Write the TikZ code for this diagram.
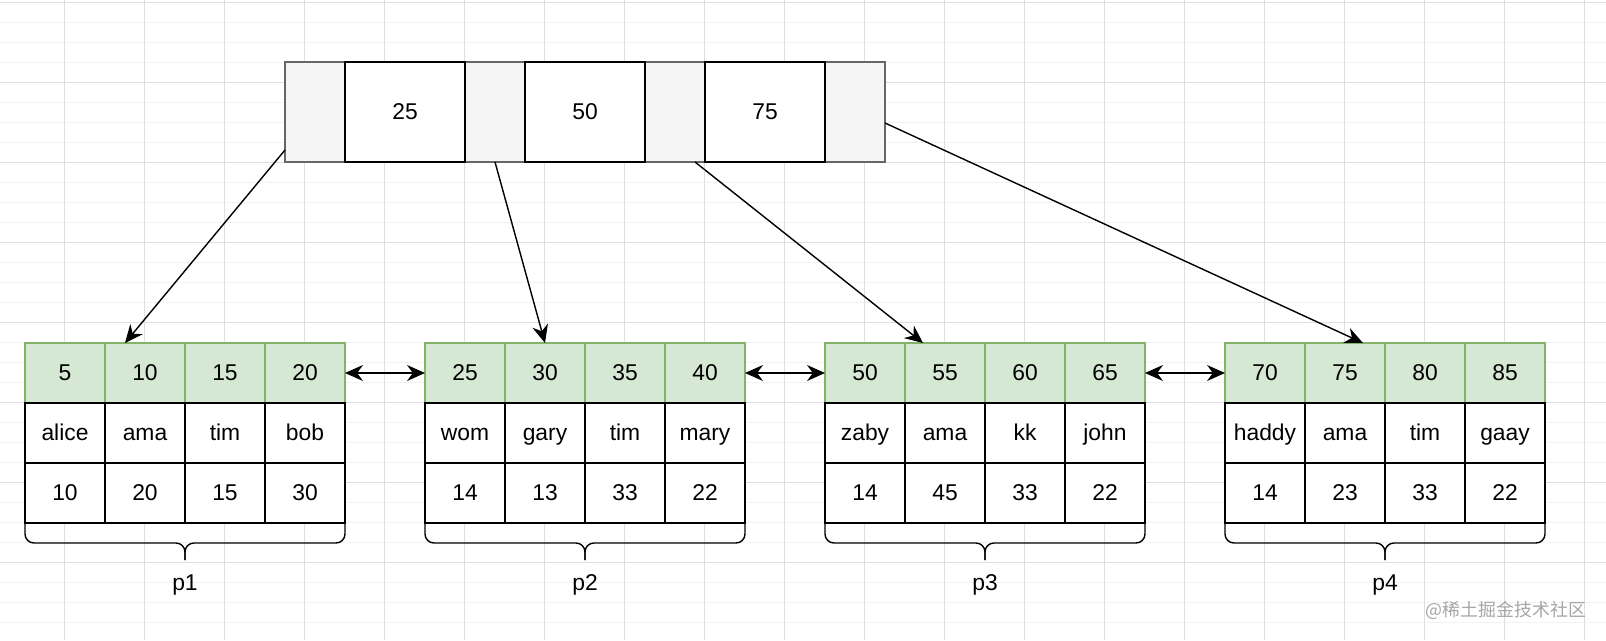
\documentclass[tikz,border=0pt]{standalone}
\usepackage{fontspec}
\setmainfont{Liberation Sans}
\newfontfamily\cjkfont{Noto Sans CJK SC}
\usetikzlibrary{arrows.meta,calc}
\definecolor{leafgreen}{HTML}{D5E8D4}
\definecolor{leafedge}{HTML}{82B366}
\definecolor{ptrgray}{HTML}{F5F5F5}
\definecolor{ptredge}{HTML}{666666}
\definecolor{gridline}{HTML}{DFDFDF}
\definecolor{gridfaint}{HTML}{F2F2F2}

\begin{document}
\begin{tikzpicture}[
    x=0.02cm, y=-0.02cm,
    font=\fontsize{13}{15}\selectfont,
    gridmajor/.style={draw=gridline, line width=0.5pt},
    gridminor/.style={draw=gridfaint, line width=0.5pt},
    ptr/.style={rectangle, draw=ptredge, fill=ptrgray, line width=0.8pt,
      minimum width=1.2cm, minimum height=2cm, inner sep=0pt, outer sep=0pt},
    key/.style={rectangle, draw=black, fill=white, line width=0.9pt,
      minimum width=2.4cm, minimum height=2cm, inner sep=0pt, outer sep=0pt,
      text height=0.9em, text depth=0pt},
    head/.style={rectangle, draw=leafedge, fill=leafgreen, line width=0.8pt,
      minimum width=1.6cm, minimum height=1.2cm, inner sep=0pt, outer sep=0pt,
      text height=0.9em, text depth=0pt},
    cell/.style={rectangle, draw=black, fill=white, line width=0.9pt,
      minimum width=1.6cm, minimum height=1.2cm, inner sep=0pt, outer sep=0pt,
      text height=0.9em, text depth=0pt},
    lab/.style={text height=0.72em, text depth=0pt},
    brace/.style={draw=black, line width=0.8pt, rounded corners=0.18cm},
    arrow/.style={-{Stealth[length=3.6mm, width=3.2mm]}, line width=0.8pt},
    link/.style={{Stealth[length=3.6mm, width=3.2mm]}-{Stealth[length=3.6mm, width=3.2mm]}, line width=0.8pt}
  ]
    % canvas and grid
    \fill[white] (0,0) rectangle (1606,640);
    \useasboundingbox (0,0) rectangle (1606,640);
    \foreach \gy in {2,22,...,640} \draw[gridminor] (0,\gy) -- (1606,\gy);
    \foreach \gy in {2,82,...,640} \draw[gridmajor] (0,\gy) -- (1606,\gy);
    \foreach \gx in {64,144,...,1600} \draw[gridmajor] (\gx,0) -- (\gx,640);

    % root page
    \node[ptr] (g0) at (315,112) {};
    \node[ptr] (g1) at (495,112) {};
    \node[ptr] (g2) at (675,112) {};
    \node[ptr] (g3) at (855,112) {};
    \node[key] (k1) at (405,112) {25};
    \node[key] (k2) at (585,112) {50};
    \node[key] (k3) at (765,112) {75};

    % leaf pages
    \foreach \k/\n/\v [count=\c] in {5/alice/10, 10/ama/20, 15/tim/15, 20/bob/30} {
      \node[head] (p1h\c) at (\c*80-15,373) {\k};
      \node[cell] (p1n\c) at (\c*80-15,433) {\n};
      \node[cell] (p1v\c) at (\c*80-15,493) {\v};
    }
    \foreach \k/\n/\v [count=\c] in {25/wom/14, 30/gary/13, 35/tim/33, 40/mary/22} {
      \node[head] (p2h\c) at (\c*80+385,373) {\k};
      \node[cell] (p2n\c) at (\c*80+385,433) {\n};
      \node[cell] (p2v\c) at (\c*80+385,493) {\v};
    }
    \foreach \k/\n/\v [count=\c] in {50/zaby/14, 55/ama/45, 60/kk/33, 65/john/22} {
      \node[head] (p3h\c) at (\c*80+785,373) {\k};
      \node[cell] (p3n\c) at (\c*80+785,433) {\n};
      \node[cell] (p3v\c) at (\c*80+785,493) {\v};
    }
    \foreach \k/\n/\v [count=\c] in {70/haddy/14, 75/ama/23, 80/tim/33, 85/gaay/22} {
      \node[head] (p4h\c) at (\c*80+1185,373) {\k};
      \node[cell] (p4n\c) at (\c*80+1185,433) {\n};
      \node[cell] (p4v\c) at (\c*80+1185,493) {\v};
    }

    % braces and page labels
    \foreach \bx in {25,425,825,1225} {
      \draw[brace] (\bx,523) -- (\bx,543) -- (\bx+160,543) -- (\bx+160,560);
      \draw[brace] (\bx+320,523) -- (\bx+320,543) -- (\bx+160,543) -- (\bx+160,560);
    }
    \node[lab] (p1lab) at (185,584) {p1};
    \node[lab] (p2lab) at (585,584) {p2};
    \node[lab] (p3lab) at (985,584) {p3};
    \node[lab] (p4lab) at (1385,584) {p4};

    % pointers
    \draw[arrow] ([yshift=0.24cm]g0.south west) -- ([xshift=-0.4cm]p1h2.north);
    \draw[arrow] (g1.south) -- (p2h2.north);
    \draw[arrow] ([xshift=0.4cm]g2.south) -- ([xshift=-0.44cm]p3h2.north);
    \draw[arrow] ([yshift=-0.22cm]g3.east) -- ([xshift=0.36cm]p4h2.north);

    \draw[link] (p1h4.east) -- (p2h1.west);
    \draw[link] (p2h4.east) -- (p3h1.west);
    \draw[link] (p3h4.east) -- (p4h1.west);

    \node[font=\cjkfont\fontsize{10.2}{12}\selectfont, text=gray!70] (mark) at (1506,610) {@稀土掘金技术社区};
\end{tikzpicture}
\end{document}
